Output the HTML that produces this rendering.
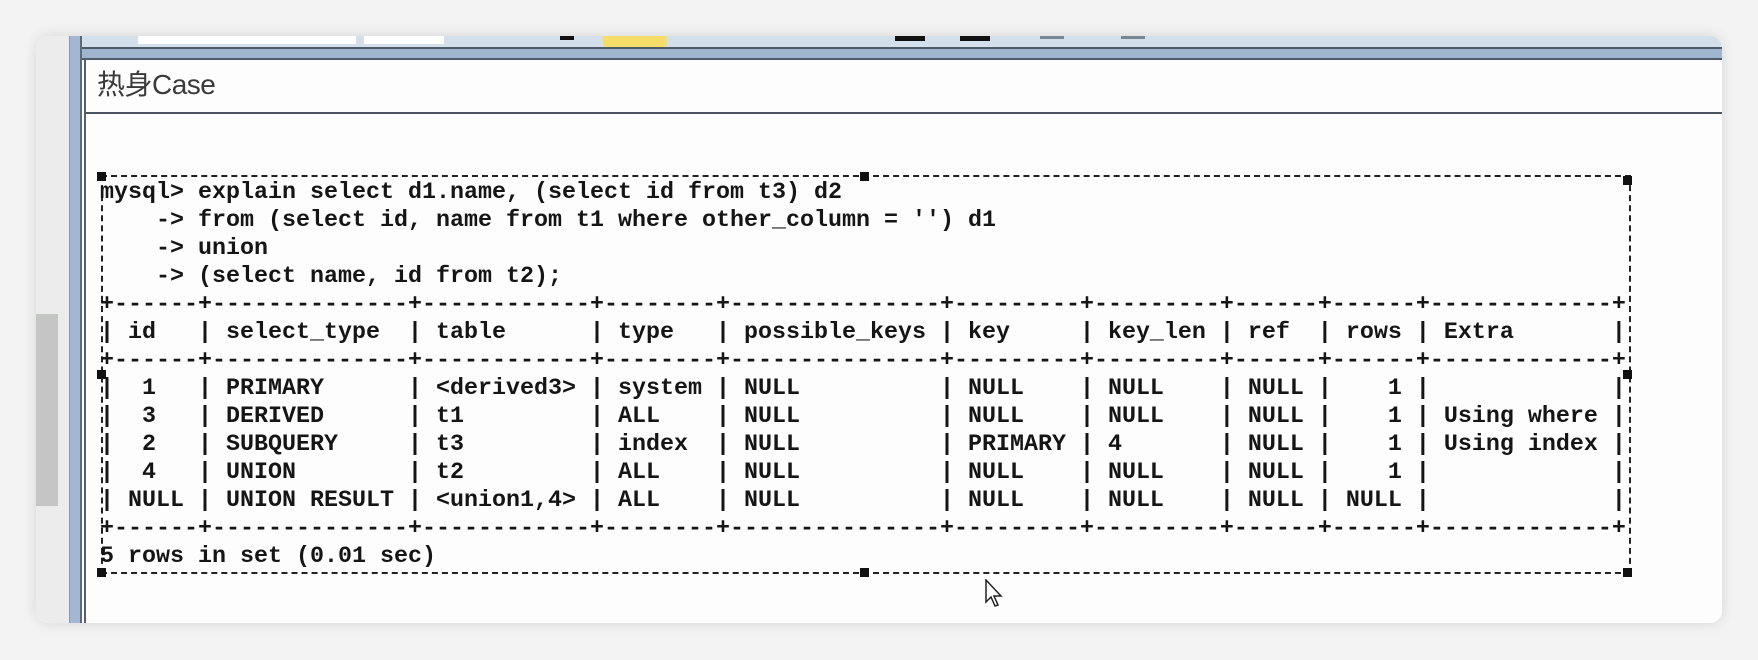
<!DOCTYPE html>
<html><head><meta charset="utf-8">
<style>
html,body{margin:0;padding:0;}
body{width:1758px;height:660px;background:#f3f3f3;position:relative;overflow:hidden;font-family:"Liberation Sans","Noto Sans CJK SC",sans-serif;}
.abs{position:absolute;}
#card{left:36px;top:36px;width:1686px;height:587px;background:#fcfdfc;border-radius:12px;box-shadow:0 0 14px rgba(0,0,0,0.12);overflow:hidden;}
pre{position:absolute;left:100px;top:179px;margin:0;font-family:"Liberation Mono",monospace;font-weight:bold;font-size:23.33px;line-height:28px;color:#151515;}
.h{position:absolute;width:9px;height:9px;background:#111;}
</style></head><body>
<div id="card" class="abs">
  <div class="abs" style="left:0;top:0;width:33px;height:587px;background:#ececec;"></div>
  <div class="abs" style="left:0;top:278px;width:22px;height:192px;background:#c4c6c4;"></div>
  <div class="abs" style="left:33px;top:0;width:1px;height:587px;background:#8a97a8;"></div>
  <div class="abs" style="left:34px;top:0;width:10px;height:587px;background:#a3b7d2;"></div>
  <div class="abs" style="left:44px;top:0;width:2px;height:587px;background:#5d6a78;"></div>
  <div class="abs" style="left:46px;top:0;width:1650px;height:11px;background:#d3e0ec;"></div>
  <div class="abs" style="left:102px;top:0;width:218px;height:8px;background:#fff;"></div>
  <div class="abs" style="left:328px;top:0;width:80px;height:8px;background:#fff;"></div>
  <div class="abs" style="left:524px;top:0;width:14px;height:4px;background:#111;"></div>
  <div class="abs" style="left:567px;top:0;width:64px;height:11px;background:#f6dd6a;border-radius:0 0 3px 3px;"></div>
  <div class="abs" style="left:859px;top:0;width:30px;height:5px;background:#111;"></div>
  <div class="abs" style="left:924px;top:0;width:30px;height:5px;background:#111;"></div>
  <div class="abs" style="left:1004px;top:0;width:24px;height:3px;background:#7a8694;"></div>
  <div class="abs" style="left:1085px;top:0;width:24px;height:3px;background:#7a8694;"></div>
  <div class="abs" style="left:46px;top:11px;width:1650px;height:2px;background:#4f5b68;"></div>
  <div class="abs" style="left:46px;top:13px;width:1650px;height:9px;background:#9fb4cd;"></div>
  <div class="abs" style="left:46px;top:22px;width:1650px;height:2px;background:#4f5b68;"></div>
  <div class="abs" style="left:48px;top:24px;width:1640px;height:563px;background:#fcfdfc;border-left:2px solid #55606c;"></div>
  <div class="abs" style="left:61px;top:27px;font-size:28px;color:#3a3a3a;letter-spacing:-0.5px;">热身Case</div>
  <div class="abs" style="left:50px;top:76px;width:1640px;height:2px;background:#4a5360;"></div>
</div>
<div class="abs" style="left:101px;top:175px;width:1530px;height:399px;border:2px dashed #222;box-sizing:border-box;"></div>
<div class="h" style="left:97px;top:172px;"></div>
<div class="h" style="left:860px;top:172px;"></div>
<div class="h" style="left:1623px;top:176px;"></div>
<div class="h" style="left:97px;top:370px;"></div>
<div class="h" style="left:1623px;top:370px;"></div>
<div class="h" style="left:97px;top:568px;"></div>
<div class="h" style="left:860px;top:568px;"></div>
<div class="h" style="left:1623px;top:568px;"></div>
<pre>mysql&gt; explain select d1.name, (select id from t3) d2
    -&gt; from (select id, name from t1 where other_column = '') d1
    -&gt; union
    -&gt; (select name, id from t2);
+------+--------------+------------+--------+---------------+---------+---------+------+------+-------------+
| id   | select_type  | table      | type   | possible_keys | key     | key_len | ref  | rows | Extra       |
+------+--------------+------------+--------+---------------+---------+---------+------+------+-------------+
|  1   | PRIMARY      | &lt;derived3&gt; | system | NULL          | NULL    | NULL    | NULL |    1 |             |
|  3   | DERIVED      | t1         | ALL    | NULL          | NULL    | NULL    | NULL |    1 | Using where |
|  2   | SUBQUERY     | t3         | index  | NULL          | PRIMARY | 4       | NULL |    1 | Using index |
|  4   | UNION        | t2         | ALL    | NULL          | NULL    | NULL    | NULL |    1 |             |
| NULL | UNION RESULT | &lt;union1,4&gt; | ALL    | NULL          | NULL    | NULL    | NULL | NULL |             |
+------+--------------+------------+--------+---------------+---------+---------+------+------+-------------+
5 rows in set (0.01 sec)</pre>
<svg class="abs" style="left:985px;top:579px;" width="20" height="30" viewBox="0 0 20 30">
<path d="M1 1 L1 23 L6 18 L10 27 L13 26 L9 17 L16 17 Z" fill="#fff" stroke="#222" stroke-width="1.5"/>
</svg>
</body></html>
